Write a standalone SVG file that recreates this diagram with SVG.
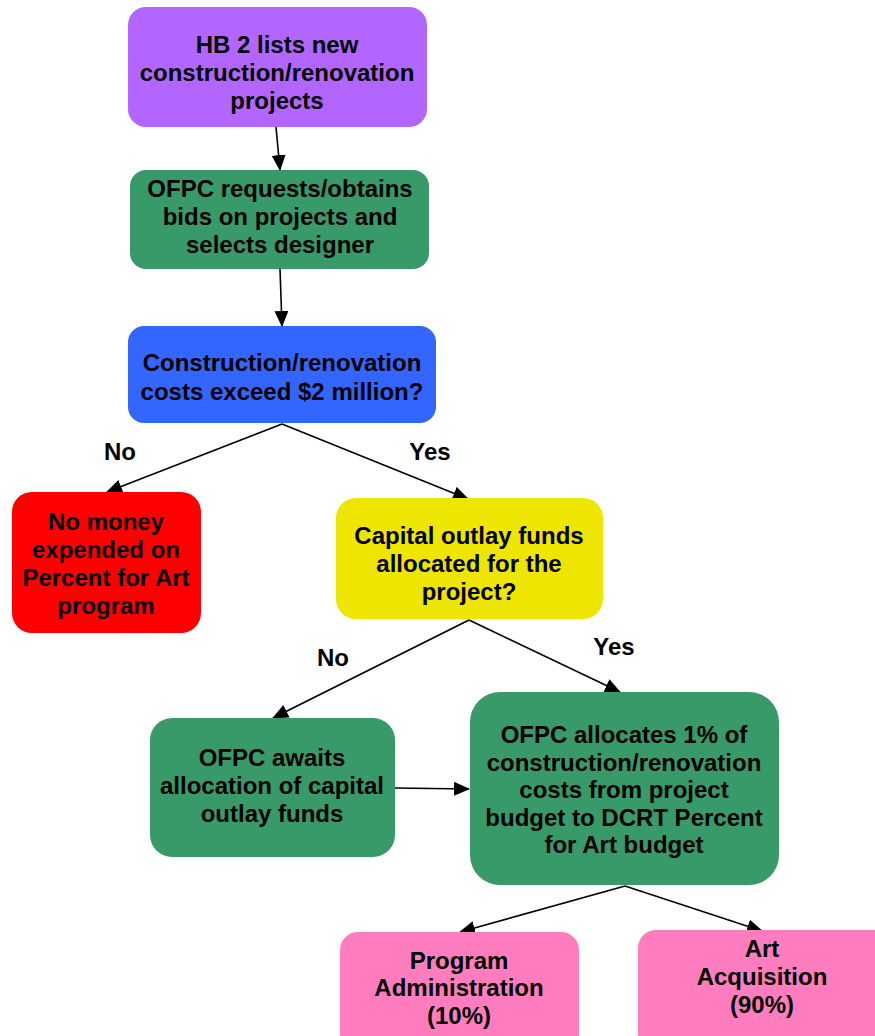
<svg xmlns="http://www.w3.org/2000/svg" width="875" height="1036" viewBox="0 0 875 1036">
<defs>
<style>
text{font-family:"Liberation Sans",Arial,sans-serif;font-weight:bold;font-size:24px;fill:#000;text-anchor:middle}
.c{stroke:#000;stroke-width:1.6;fill:none;marker-end:url(#ah)}
</style>
<marker id="ah" markerWidth="16" markerHeight="14" refX="15" refY="7" orient="auto" markerUnits="userSpaceOnUse">
<path d="M0,0 L16,7 L0,14 Z" fill="#000"/>
</marker>
</defs>
<rect width="875" height="1036" fill="#fff"/>
<g id="connectors">
<line class="c" x1="276" y1="127" x2="280" y2="170"/>
<line class="c" x1="280" y1="269" x2="282" y2="326"/>
<line class="c" x1="282" y1="424" x2="107" y2="492"/>
<line class="c" x1="282" y1="424" x2="468" y2="499"/>
<line class="c" x1="469" y1="620" x2="273" y2="718"/>
<line class="c" x1="469" y1="620" x2="620" y2="692"/>
<line class="c" x1="395" y1="788" x2="469" y2="789"/>
<line class="c" x1="625" y1="886" x2="460" y2="932"/>
<line class="c" x1="625" y1="886" x2="762" y2="931"/>
<text x="120" y="460">No</text>
<text x="430" y="460">Yes</text>
<text x="333" y="666">No</text>
<text x="614" y="655">Yes</text>
</g>
<g id="n1">
<rect x="128" y="7" width="299" height="120" rx="18" fill="#B266FF"/>
<text x="277" y="53">HB 2 lists new</text>
<text x="277" y="81">construction/renovation</text>
<text x="277" y="109">projects</text>
</g>
<g id="n2">
<rect x="130" y="170" width="299" height="99" rx="16" fill="#389A69"/>
<text x="280" y="197">OFPC requests/obtains</text>
<text x="280" y="225">bids on projects and</text>
<text x="280" y="253">selects designer</text>
</g>
<g id="n3">
<rect x="128" y="326" width="308" height="97" rx="16" fill="#3366FF"/>
<text x="282" y="371">Construction/renovation</text>
<text x="282" y="400">costs exceed $2 million?</text>
</g>
<g id="n4">
<rect x="12" y="492" width="189" height="141" rx="20" fill="#FF0000"/>
<text x="106" y="530">No money</text>
<text x="106" y="558">expended on</text>
<text x="106" y="586">Percent for Art</text>
<text x="106" y="614">program</text>
</g>
<g id="n5">
<rect x="336" y="498" width="267" height="121" rx="20" fill="#EEE600"/>
<text x="469" y="544">Capital outlay funds</text>
<text x="469" y="572">allocated for the</text>
<text x="469" y="600">project?</text>
</g>
<g id="n6">
<rect x="150" y="718" width="245" height="139" rx="22" fill="#389A69"/>
<text x="272" y="766">OFPC awaits</text>
<text x="272" y="794">allocation of capital</text>
<text x="272" y="822">outlay funds</text>
</g>
<g id="n7">
<rect x="470" y="692" width="309" height="193" rx="30" fill="#389A69"/>
<text x="624" y="743">OFPC allocates 1% of</text>
<text x="624" y="771">construction/renovation</text>
<text x="624" y="798">costs from project</text>
<text x="624" y="826">budget to DCRT Percent</text>
<text x="624" y="853">for Art budget</text>
</g>
<g id="n8">
<rect x="340" y="932" width="239" height="120" rx="18" fill="#FF7DBF"/>
<text x="459" y="969">Program</text>
<text x="459" y="996">Administration</text>
<text x="459" y="1024">(10%)</text>
</g>
<g id="n9">
<rect x="638" y="930" width="260" height="120" rx="18" fill="#FF7DBF"/>
<text x="762" y="957">Art</text>
<text x="762" y="985">Acquisition</text>
<text x="762" y="1013">(90%)</text>
</g>
</svg>
